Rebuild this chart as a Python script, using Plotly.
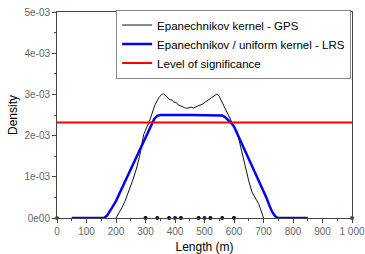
import plotly.graph_objects as go

# GPS kernel density (Epanechnikov)
gps_x = [200, 210, 220, 230, 243, 255, 269, 280, 294, 305, 316, 325, 333, 345, 355, 361,
         370, 380, 390, 395, 405, 410, 418, 425, 432, 440, 448, 455, 462, 470, 478, 485,
         492, 500, 508, 515, 525, 535, 542, 550, 560, 570, 580, 591, 600, 610, 620, 627,
         640, 650, 661, 672, 683, 692, 700]
gps_y = [0, 0.12, 0.25, 0.40, 0.63, 0.88, 1.19, 1.50, 2.03, 2.20, 2.40, 2.60, 2.76, 2.92, 3.00, 3.01,
         2.96, 2.88, 2.86, 2.82, 2.80, 2.75, 2.72, 2.70, 2.68, 2.66, 2.67, 2.69, 2.67, 2.70, 2.71, 2.74,
         2.76, 2.80, 2.84, 2.87, 2.92, 2.98, 3.01, 2.95, 2.80, 2.67, 2.50, 2.32, 2.22, 2.11, 1.80, 1.55,
         1.20, 0.90, 0.63, 0.50, 0.35, 0.18, 0]

# LRS kernel density (Epanechnikov / uniform)
lrs_x = [50, 100, 160, 170, 180, 190, 200, 220, 240, 260, 280, 300, 310, 320, 330, 340, 350,
         450, 550, 560, 570, 580, 590, 600, 620, 640, 660, 680, 700, 710, 720, 730, 740, 750, 800, 850]
lrs_y = [0, 0, 0, 0.06, 0.17, 0.29, 0.41, 0.72, 1.03, 1.34, 1.65, 1.96, 2.10, 2.28, 2.41, 2.48, 2.50,
         2.50, 2.50, 2.49, 2.45, 2.39, 2.31, 2.22, 1.91, 1.60, 1.28, 0.97, 0.65, 0.49, 0.30, 0.14, 0.04, 0, 0, 0]

# significance level
sig_level = 2.32
sig_x = [0, 1000]

# observations
gps_obs = [300, 340, 380, 420, 480, 520, 560, 600]
lrs_obs = [400, 500]
edge_obs = [0, 1000]

scale = 1e-3

x_tickvals = [0, 100, 200, 300, 400, 500, 600, 700, 800, 900, 1000]
x_ticktext = ["0", "100", "200", "300", "400", "500", "600", "700", "800", "900", "1 000"]
y_tickvals = [0, 1e-3, 2e-3, 3e-3, 4e-3, 5e-3]
y_ticktext = ["0e00", "1e-03", "2e-03", "3e-03", "4e-03", "5e-03"]

fig = go.Figure()
fig.add_trace(go.Scatter(x=gps_x, y=[v * scale for v in gps_y], mode="lines",
                         line=dict(color="#111111", width=1), name="Epanechnikov kernel - GPS"))
fig.add_trace(go.Scatter(x=lrs_x, y=[v * scale for v in lrs_y], mode="lines",
                         line=dict(color="#0000ff", width=2.5),
                         name="Epanechnikov / uniform kernel - LRS"))
fig.add_trace(go.Scatter(x=sig_x, y=[sig_level * scale] * 2, mode="lines",
                         line=dict(color="#ff0000", width=2), name="Level of significance"))
fig.add_trace(go.Scatter(x=gps_obs, y=[0] * len(gps_obs), mode="markers",
                         marker=dict(color="black", size=4), showlegend=False, cliponaxis=False))
fig.add_trace(go.Scatter(x=lrs_obs, y=[0] * len(lrs_obs), mode="markers",
                         marker=dict(color="#0000ff", size=4), showlegend=False, cliponaxis=False))
fig.add_trace(go.Scatter(x=edge_obs, y=[0] * len(edge_obs), mode="markers",
                         marker=dict(color="#ff0000", size=4), showlegend=False, cliponaxis=False))

axis_common = dict(showline=True, linecolor="#444444", linewidth=1, mirror=True, automargin=False,
                   ticks="outside", ticklen=4, tickcolor="#444444", showgrid=False, zeroline=False,
                   tickfont=dict(family="Liberation Sans, Arial", size=10, color="#666666"))

fig.update_layout(
    width=365, height=254,
    margin=dict(l=57, r=13, t=10, b=36),
    plot_bgcolor="white", paper_bgcolor="white",
    font=dict(family="Liberation Sans, Arial", size=12, color="black"),
    xaxis=dict(range=[0, 1000], tickvals=x_tickvals, ticktext=x_ticktext,
               minor=dict(ticks="outside", ticklen=2, tickcolor="#444444", dtick=50),
               title=dict(text="Length (m)", font=dict(size=12), standoff=6),
               **axis_common),
    yaxis=dict(range=[0, 5e-3], tickvals=y_tickvals, ticktext=y_ticktext,
               minor=dict(ticks="outside", ticklen=2, tickcolor="#444444", dtick=0.5e-3),
               title=dict(text="Density", font=dict(size=12), standoff=4),
               **axis_common),
    legend=dict(x=0.997, y=1.012, xanchor="right", yanchor="top",
                bgcolor="white", bordercolor="#888888", borderwidth=1,
                font=dict(size=11.5), itemwidth=30, tracegroupgap=0),
    showlegend=True,
)

fig.write_html("out.html", config={"displayModeBar": False},
               post_script="document.body.style.margin='0';document.body.style.overflow='hidden';")
